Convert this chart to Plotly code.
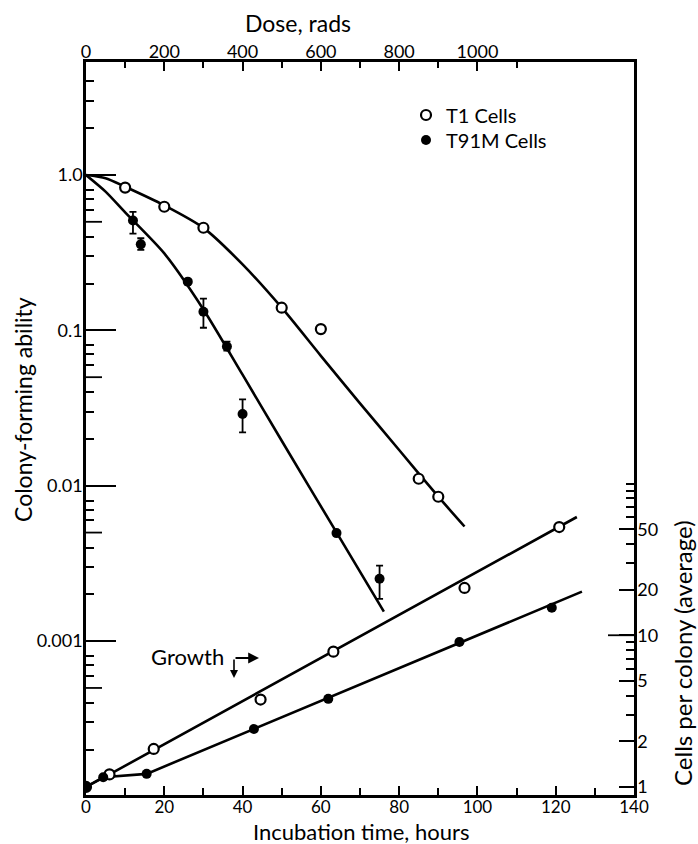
import plotly.graph_objects as go

# ---------------- data ----------------
# Survival vs dose (top axis: dose in rads; left axis: colony-forming ability)
t1_dose = [100, 200, 300, 500, 600, 850, 900]
t1_surv = [0.83, 0.625, 0.458, 0.140, 0.102, 0.0111, 0.0085]
t1_curve_dose = [0, 50, 100, 200, 300, 400, 500, 600, 700, 800, 900, 967]
t1_curve_surv = [1.0, 0.955, 0.841, 0.638, 0.457, 0.266, 0.140, 0.0686, 0.0339, 0.0170, 0.00851, 0.00547]

t91_dose = [120, 140, 260, 300, 360, 400, 640, 750]
t91_surv = [0.51, 0.358, 0.206, 0.132, 0.0787, 0.0290, 0.00496, 0.00252]
t91_err_hi = [0.58, 0.392, None, 0.16, 0.0847, 0.036, None, 0.00306]
t91_err_lo = [0.42, 0.33, None, 0.104, 0.0742, 0.0221, None, 0.00187]
t91_curve_dose = [0, 50, 100, 200, 300, 400, 500, 640, 761]
t91_curve_surv = [1.0, 0.782, 0.575, 0.313, 0.1365, 0.0519, 0.0195, 0.00501, 0.00155]

# Growth (bottom axis: hours; right axis: cells per colony)
t1_hours = [0, 6, 17.3, 44.6, 63.2, 96.7, 120.9]
t1_cells = [1.0, 1.21, 1.78, 3.77, 7.8, 20.5, 51.7]
t1_gline_hours = [0, 6, 125.4]
t1_gline_cells = [1.0, 1.21, 60.2]

t91_hours = [0, 4.4, 15.5, 42.9, 61.9, 95.4, 119]
t91_cells = [1.0, 1.16, 1.22, 2.41, 3.81, 9.03, 15.2]
t91_gline_hours = [0, 4.4, 15.5, 126.7]
t91_gline_cells = [1.0, 1.16, 1.22, 19.4]

# tick labels
dose_tickvals = [0, 200, 400, 600, 800, 1000]
dose_minor = [100, 300, 500, 700, 900, 1100]
hour_tickvals = [0, 20, 40, 60, 80, 100, 120, 140]
hour_minor = [10, 30, 50, 70, 90, 110, 130]
left_tickvals = [1.0, 0.1, 0.01, 0.001]
left_ticktext = ["1.0", "0.1", "0.01", "0.001"]
left_five = [5e-4, 5e-3, 5e-2, 0.5]
left_minor = [m * 10.0 ** e for e in range(-4, 1) for m in (2, 3, 4, 6, 7, 8)]
right_tickvals = [1, 2, 5, 10, 20, 50]
right_ticktext = ["1", "2", "5", "10", "20", "50"]
right_long = [10]
right_minor = [3, 4, 6, 7, 8, 9, 30, 40, 60, 70, 80, 90, 100]

FONT = "Lato"
BLACK = "black"

fig = go.Figure()

# survival curves (top/left axes)
for xs, ys in ((t1_curve_dose, t1_curve_surv), (t91_curve_dose, t91_curve_surv)):
    fig.add_trace(go.Scatter(x=xs, y=ys, mode="lines",
                             line=dict(color=BLACK, width=2.6, shape="spline", smoothing=0.7),
                             xaxis="x2", yaxis="y", showlegend=False, hoverinfo="skip"))

# growth lines (bottom/right axes)
for xs, ys in ((t1_gline_hours, t1_gline_cells), (t91_gline_hours, t91_gline_cells)):
    fig.add_trace(go.Scatter(x=xs, y=ys, mode="lines",
                             line=dict(color=BLACK, width=2.6),
                             xaxis="x", yaxis="y2", showlegend=False, hoverinfo="skip"))

plus = [(h - v) if h is not None else 0 for h, v in zip(t91_err_hi, t91_surv)]
minus = [(v - l) if l is not None else 0 for l, v in zip(t91_err_lo, t91_surv)]

open_marker = dict(symbol="circle", size=10, color="white", line=dict(width=2.2, color=BLACK))
fill_marker = dict(symbol="circle", size=10, color=BLACK, line=dict(width=0))

fig.add_trace(go.Scatter(x=t1_hours, y=t1_cells, mode="markers", marker=open_marker,
                         xaxis="x", yaxis="y2", showlegend=False))
fig.add_trace(go.Scatter(x=t91_hours, y=t91_cells, mode="markers", marker=fill_marker,
                         xaxis="x", yaxis="y2", showlegend=False))

fig.add_trace(go.Scatter(x=t1_dose, y=t1_surv, mode="markers", name="T1 Cells",
                         marker=open_marker, xaxis="x2", yaxis="y",
                         showlegend=True, legend="legend"))
fig.add_trace(go.Scatter(x=t91_dose, y=t91_surv, mode="markers", name="T91M Cells",
                         marker=fill_marker,
                         error_y=dict(type="data", array=plus, arrayminus=minus,
                                      color=BLACK, thickness=1.8, width=3.5, visible=True),
                         xaxis="x2", yaxis="y", showlegend=True, legend="legend2"))

L, R, T, B = 86, 64, 62, 49
W, H = 698, 844
pw, ph = W - L - R, H - T - B

def px(xp):
    return (xp - L) / pw

def py(yp):
    return (H - B - yp) / ph

tickfont = dict(family=FONT, size=18, color=BLACK)
LEFT_RANGE = [-3.99, 0.7275]
RIGHT_RANGE = [-0.053, 4.779]

common = dict(showline=True, linewidth=2.5, linecolor=BLACK, showgrid=False, zeroline=False,
              automargin=False, tickcolor=BLACK, tickwidth=1.8, ticks="inside")

legfont = dict(family=FONT, size=20, color=BLACK)
legcommon = dict(xanchor="left", yanchor="middle", font=legfont, bgcolor="rgba(0,0,0,0)",
                 borderwidth=0, itemwidth=30)

fig.update_layout(
    template="none",
    width=W, height=H,
    margin=dict(l=L, r=R, t=T, b=B, pad=0),
    paper_bgcolor="white", plot_bgcolor="rgba(0,0,0,0)",
    font=dict(family=FONT, color=BLACK),
    showlegend=True,
    legend=dict(x=px(406), y=py(115), **legcommon),
    legend2=dict(x=px(406), y=py(140), **legcommon),
    xaxis=dict(range=[0, 140], tickmode="array", tickvals=hour_tickvals, ticklen=9,
               ticklabelstandoff=-5, tickfont=dict(family=FONT, size=17, color=BLACK),
               minor=dict(tickvals=hour_minor, ticks="inside", ticklen=7, tickwidth=1.6, tickcolor=BLACK),
               **common),
    xaxis2=dict(range=[0, 1400], overlaying="x", side="top", anchor="y", tickmode="array",
                tickvals=dose_tickvals, ticklen=9, ticklabelstandoff=-6, tickfont=tickfont,
                minor=dict(tickvals=dose_minor, ticks="inside", ticklen=6, tickwidth=1.6, tickcolor=BLACK),
                **common),
    yaxis=dict(type="log", range=LEFT_RANGE, tickmode="array", tickvals=left_tickvals,
               ticktext=left_ticktext, ticklen=30, ticklabelstandoff=-3, tickfont=tickfont,
               minor=dict(tickvals=left_minor, ticks="inside", ticklen=8, tickwidth=1.6, tickcolor=BLACK),
               **common),
    yaxis2=dict(type="log", range=RIGHT_RANGE, overlaying="y", side="right", anchor="x",
                tickmode="array", tickvals=right_tickvals, ticktext=right_ticktext, ticklen=15,
                ticklabelstandoff=-3, tickfont=tickfont,
                minor=dict(tickvals=right_minor, ticks="inside", ticklen=8, tickwidth=1.6, tickcolor=BLACK),
                **common),
)

# longer half-decade ticks on the left axis and the long "10" tick on the right axis
for v in left_five:
    fig.add_shape(type="line", xref="paper", yref="y", x0=0, x1=16 / pw, y0=v, y1=v,
                  line=dict(color=BLACK, width=1.8))
for v in right_long:
    fig.add_shape(type="line", xref="paper", yref="y2", x0=1 - 26 / pw, x1=1, y0=v, y1=v,
                  line=dict(color=BLACK, width=1.8))

titlefont = dict(family=FONT, size=23, color=BLACK)
fig.add_annotation(text="Dose, rads", xref="paper", yref="paper", x=px(298), y=py(23),
                   showarrow=False, font=titlefont, xanchor="center", yanchor="middle")
fig.add_annotation(text="Incubation time, hours", xref="paper", yref="paper", x=px(361), y=py(831),
                   showarrow=False, font=dict(family=FONT, size=22, color=BLACK),
                   xanchor="center", yanchor="middle")
fig.add_annotation(text="Colony-forming ability", xref="paper", yref="paper", x=px(23), y=py(410),
                   showarrow=False, font=titlefont, textangle=-90, xanchor="center", yanchor="middle")
fig.add_annotation(text="Cells per colony (average)", xref="paper", yref="paper", x=px(682), y=py(653),
                   showarrow=False, font=dict(family=FONT, size=24, color=BLACK),
                   textangle=-90, xanchor="center", yanchor="middle")
fig.add_annotation(text="Growth", xref="paper", yref="paper", x=px(187), y=py(656),
                   showarrow=False, font=dict(family=FONT, size=22, color=BLACK),
                   xanchor="center", yanchor="middle")
# growth arrows
fig.add_annotation(text="", xref="paper", yref="paper", x=px(259), y=py(658),
                   ax=-25, ay=0, showarrow=True, arrowhead=2, arrowsize=1.2, arrowwidth=1.8,
                   arrowcolor=BLACK)
fig.add_annotation(text="", xref="paper", yref="paper", x=px(234), y=py(678),
                   ax=0, ay=-20, showarrow=True, arrowhead=2, arrowsize=1.0, arrowwidth=1.6,
                   arrowcolor=BLACK)

fig.write_html("out.html", config={"displayModeBar": False},
               post_script="document.body.style.margin='0px';")
